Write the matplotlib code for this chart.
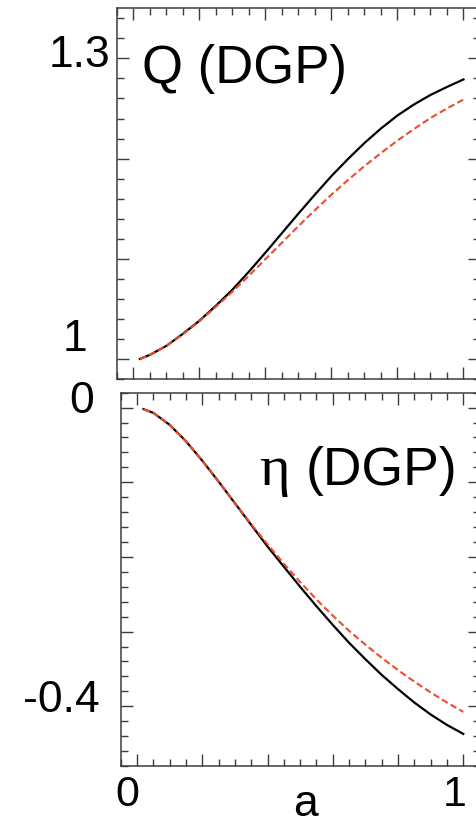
import matplotlib
matplotlib.use('Agg')
import matplotlib.pyplot as plt
from matplotlib.ticker import MultipleLocator, FixedLocator

# ---------------- data ----------------
a = [0.02, 0.05, 0.10, 0.15, 0.20, 0.25, 0.30, 0.35, 0.40, 0.45, 0.50,
     0.55, 0.60, 0.65, 0.70, 0.75, 0.80, 0.85, 0.90, 0.95, 1.00]
Q_solid = [1.000, 1.004, 1.013, 1.025, 1.038, 1.053, 1.069, 1.087, 1.106, 1.1255, 1.145,
           1.164, 1.1825, 1.1995, 1.2155, 1.230, 1.243, 1.254, 1.2635, 1.2715, 1.279]
Q_dashed = [1.000, 1.004, 1.013, 1.0245, 1.0375, 1.052, 1.067, 1.083, 1.0995, 1.116, 1.1325,
            1.1485, 1.164, 1.1785, 1.1925, 1.2055, 1.218, 1.2295, 1.2405, 1.250, 1.259]
eta_solid = [-0.002, -0.007, -0.023, -0.045, -0.071, -0.099, -0.128, -0.157, -0.186, -0.213, -0.240,
             -0.266, -0.291, -0.315, -0.337, -0.358, -0.377, -0.395, -0.411, -0.425, -0.437]
eta_dashed = [-0.002, -0.007, -0.023, -0.045, -0.071, -0.099, -0.128, -0.156, -0.183, -0.209, -0.2335,
              -0.257, -0.2785, -0.299, -0.3175, -0.335, -0.3515, -0.367, -0.3815, -0.395, -0.4075]

x_major = [0.0, 0.2, 0.4, 0.6, 0.8, 1.0]
q_major = [1.0, 1.1, 1.2, 1.3]
eta_major = [-0.4, -0.3, -0.2, -0.1, 0.0]

q_labels = {1.0: '1', 1.3: '1.3'}
eta_labels = {0.0: '0', -0.4: '-0.4'}
x_labels = {0.0: '0', 1.0: '1'}

SANS = 'Liberation Sans'
SERIF = 'Liberation Serif'
RED = '#ef4b2c'
SPINE = '#3c3c3c'
W, H = 477, 824

fig = plt.figure(figsize=(W / 100, H / 100), dpi=100)

def px_axes(l, r, t, b):
    return fig.add_axes([l / W, 1 - b / H, (r - l) / W, (b - t) / H])

ax1 = px_axes(116.7, 480.0, 8.3, 379.0)
ax2 = px_axes(120.7, 479.6, 392.7, 766.0)

for ax in (ax1, ax2):
    ax.set_xlim(-0.05, 1.05)
    ax.xaxis.set_major_locator(FixedLocator(x_major))
    ax.xaxis.set_minor_locator(MultipleLocator(0.05))
    ax.yaxis.set_minor_locator(MultipleLocator(0.02))
    ax.tick_params(which='both', direction='in', top=True, right=True,
                   labelbottom=False, labelleft=False, color=SPINE, width=1.0)
    ax.tick_params(which='major', length=8.5)
    ax.tick_params(which='minor', length=4.8)
    for s in ax.spines.values():
        s.set_color(SPINE)
        s.set_linewidth(1.1)

# top panel
ax1.plot(a, Q_solid, color='black', lw=1.6)
ax1.plot(a, Q_dashed, color=RED, lw=1.5, ls=(0, (3.2, 1.6)))
ax1.set_ylim(0.98, 1.35)
ax1.yaxis.set_major_locator(FixedLocator(q_major))

# bottom panel
ax2.plot(a, eta_solid, color='black', lw=1.6)
ax2.plot(a, eta_dashed, color=RED, lw=1.5, ls=(0, (3.2, 1.6)))
ax2.set_ylim(-0.48, 0.02)
ax2.yaxis.set_major_locator(FixedLocator(eta_major))

def ylab(ax, val, txt, dxpx, dypx):
    ax.annotate(txt, xy=(0, val), xycoords=('axes fraction', 'data'),
                xytext=(dxpx * 0.72, dypx * 0.72), textcoords='offset points',
                ha='center', va='center', fontsize=32, family=SANS)

def xlab(ax, val, txt, dxpx, dypx):
    ax.annotate(txt, xy=(val, 0), xycoords=('data', 'axes fraction'),
                xytext=(dxpx * 0.72, dypx * 0.72), textcoords='offset points',
                ha='center', va='center', fontsize=31, family=SANS)

ylab(ax1, 1.3, q_labels[1.3], -36.7, 3.3)
ylab(ax1, 1.0, q_labels[1.0], -41.7, 19.0)
ylab(ax2, 0.0, eta_labels[0.0], -38.7, 6.3)
ylab(ax2, -0.4, eta_labels[-0.4], -59.7, 6.0)
xlab(ax2, 0.0, x_labels[0.0], -9.8, -29.0)
xlab(ax2, 1.0, x_labels[1.0], -8.5, -29.0)

fig.text(305.5 / W, 1 - 816 / H, 'a', ha='center', va='baseline',
         fontsize=32, family=SANS)

# panel titles
fig.text(142 / W, 1 - 83 / H, 'Q (DGP)', ha='left', va='baseline',
         fontsize=38, family=SANS)
fig.text(259 / W, 1 - 485 / H, 'η', ha='left', va='baseline',
         fontsize=42, family=SERIF)
fig.text(306 / W, 1 - 485 / H, '(DGP)', ha='left', va='baseline',
         fontsize=38.5, family=SANS)

fig.savefig('out.png', dpi=100)
